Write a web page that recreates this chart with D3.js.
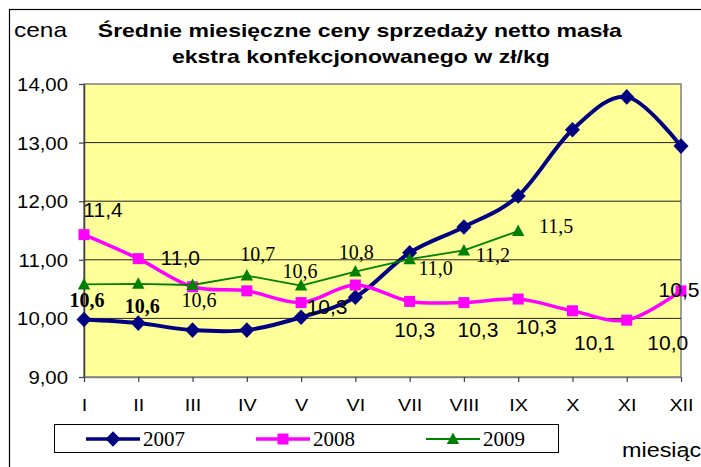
<!DOCTYPE html>
<html>
<head>
<meta charset="utf-8">
<script src="https://cdn.jsdelivr.net/npm/d3@7"></script>
<style>
  html, body { margin: 0; padding: 0; background: #fff; }
  svg { display: block; }
  .sans { font-family: "Liberation Sans", Arial, sans-serif; }
  .serif { font-family: "Liberation Serif", "Times New Roman", serif; }
</style>
</head>
<body>
<script>
'use strict';

let WIDTH = 701;
let HEIGHT = 467;

// data
let months = ['I', 'II', 'III', 'IV', 'V', 'VI', 'VII', 'VIII', 'IX', 'X', 'XI', 'XII'];
let price2007 = [9.98, 9.92, 9.80, 9.80, 10.02, 10.36, 11.12, 11.56, 12.09, 13.22, 13.78, 12.94];
let price2008 = [11.43, 11.02, 10.54, 10.47, 10.27, 10.57, 10.29, 10.27, 10.33, 10.13, 9.97, 10.47];
let price2009 = [10.58, 10.59, 10.57, 10.73, 10.56, 10.80, 11.01, 11.16, 11.49];
let yTicks = [9, 10, 11, 12, 13, 14];
let titleLines = ['Średnie miesięczne ceny sprzedaży netto masła', 'ekstra konfekcjonowanego w zł/kg'];

// which points carry a label, and where the label sits relative to the point
let labels2008 = [[0, 19, -17.6], [1, 42, 6.4], [4, 26, 11.4], [6, 5, 35.6], [7, 14, 34.4],
                  [8, 18, 34.9], [9, 22, 39.2], [10, 41, 29.8], [11, -2, 6]];
let labels2009 = [[0, 3, 22.6], [1, 4, 29.2], [2, 6.5, 22], [3, 11, -14.6], [4, -1, -7.6],
                  [5, 1, -12.5], [6, 26, 15.8], [7, 29, 11.6], [8, 38, 2]];

let plot = { left: 84, right: 681, top: 84, bottom: 377 };

let pl = d3.formatLocale({ decimal: ',', thousands: ' ', grouping: [3], currency: ['', ' zł'] });
let fmt2 = pl.format('.2f');
let fmt1 = pl.format('.1f');

let svg = d3.select('body')
    .append('svg')
    .attr('width', WIDTH)
    .attr('height', HEIGHT);

// outer chart frame (runs off the picture on the right and bottom)
svg.append('rect')
    .attr('x', 9.5).attr('y', 9.5)
    .attr('width', 900).attr('height', 900)
    .attr('fill', '#fff')
    .attr('stroke', '#000')
    .attr('stroke-width', 1.2);

let x = d3.scalePoint().domain(months).range([plot.left, plot.right]);
let y = d3.scaleLinear().domain([9, 14]).range([plot.bottom, plot.top]);

// plot area
svg.append('rect')
    .attr('x', plot.left).attr('y', plot.top)
    .attr('width', plot.right - plot.left)
    .attr('height', plot.bottom - plot.top)
    .attr('fill', '#ffff99')
    .attr('stroke', '#808080')
    .attr('stroke-width', 1.5);

// horizontal gridlines
svg.append('g')
    .selectAll('line')
    .data(yTicks.slice(1, -1))
    .enter()
    .append('line')
    .attr('x1', plot.left).attr('x2', plot.right)
    .attr('y1', d => y(d)).attr('y2', d => y(d))
    .attr('stroke', '#222')
    .attr('stroke-width', 1);

// y axis
let yAxis = svg.append('g')
    .attr('transform', `translate(${plot.left},0)`)
    .call(d3.axisLeft(y).tickValues(yTicks).tickFormat(fmt2).tickSize(5).tickSizeOuter(0));
yAxis.select('.domain').attr('stroke', '#404040').attr('stroke-width', 1.5);
yAxis.selectAll('.tick line').attr('stroke', '#404040').attr('stroke-width', 1.2);
yAxis.selectAll('.tick text')
    .attr('class', 'sans')
    .attr('font-size', 18.5)
    .attr('fill', '#000')
    .attr('x', 0)
    .attr('dy', '0.35em')
    .attr('text-anchor', 'end')
    .attr('transform', 'translate(-16,0) scale(1.1,1)');

// x axis
let xAxis = svg.append('g')
    .attr('transform', `translate(0,${plot.bottom})`)
    .call(d3.axisBottom(x).tickSize(5).tickSizeOuter(0));
xAxis.select('.domain').attr('stroke', '#808080').attr('stroke-width', 1.5);
xAxis.selectAll('.tick line').attr('stroke', '#404040').attr('stroke-width', 1.2);
xAxis.selectAll('.tick text')
    .attr('class', 'sans')
    .attr('font-size', 16.5)
    .attr('fill', '#000')
    .attr('y', 34)
    .attr('dy', 0)
    .attr('transform', 'scale(1.2,1)');
svg.selectAll('g').filter(function () { return this.getAttribute('font-family'); })
    .attr('font-family', null);

// series
let smooth = d3.line()
    .curve(d3.curveCardinal.tension(0))
    .x((d, i) => x(months[i]))
    .y(d => y(d));
let straight = d3.line()
    .x((d, i) => x(months[i]))
    .y(d => y(d));

let diamond = 'M0,-7.8L7.5,0L0,7.8L-7.5,0Z';
let square = 'M-5.5,-5.5H5.5V5.5H-5.5Z';
let triangle = 'M0,-6.5L6.2,5L-6.2,5Z';

let series = [
    { name: '2007', values: price2007, color: '#000080', width: 4, line: smooth, marker: diamond },
    { name: '2008', values: price2008, color: '#ff00ff', width: 3.5, line: smooth, marker: square },
    { name: '2009', values: price2009, color: '#008000', width: 1.8, line: straight, marker: triangle }
];

series.forEach(s => {
    let g = svg.append('g');
    g.append('path')
        .attr('d', s.line(s.values))
        .attr('fill', 'none')
        .attr('stroke', s.color)
        .attr('stroke-width', s.width)
        .attr('stroke-linejoin', 'round');
    g.selectAll('path.marker')
        .data(s.values)
        .enter()
        .append('path')
        .attr('class', 'marker')
        .attr('d', s.marker)
        .attr('fill', s.color)
        .attr('transform', (d, i) => `translate(${x(months[i])},${y(d)})`);
});

// data labels
svg.append('g')
    .selectAll('text')
    .data(labels2008)
    .enter()
    .append('text')
    .attr('class', 'sans')
    .attr('font-size', 21)
    .attr('text-anchor', 'middle')
    .attr('x', d => x(months[d[0]]) + d[1])
    .attr('y', d => y(price2008[d[0]]) + d[2])
    .text(d => fmt1(price2008[d[0]]));

svg.append('g')
    .selectAll('text')
    .data(labels2009)
    .enter()
    .append('text')
    .attr('class', 'serif')
    .attr('font-size', 20)
    .attr('font-weight', d => d[0] < 2 ? 'bold' : 'normal')
    .attr('text-anchor', 'middle')
    .attr('x', d => x(months[d[0]]) + d[1])
    .attr('y', d => y(price2009[d[0]]) + d[2])
    .text(d => fmt1(price2009[d[0]]));

// title and axis names
svg.append('g')
    .selectAll('text')
    .data(titleLines)
    .enter()
    .append('text')
    .attr('class', 'sans')
    .attr('font-size', 18.5)
    .attr('font-weight', 'bold')
    .attr('text-anchor', 'middle')
    .attr('x', (d, i) => i === 0 ? 359.8 : 360.9)
    .attr('y', (d, i) => 36.5 + i * 26)
    .attr('textLength', (d, i) => i === 0 ? 524 : 378)
    .attr('lengthAdjust', 'spacingAndGlyphs')
    .text(d => d);

svg.append('text')
    .attr('class', 'sans')
    .attr('font-size', 21)
    .attr('x', 14).attr('y', 37)
    .attr('textLength', 53)
    .attr('lengthAdjust', 'spacingAndGlyphs')
    .text('cena');

svg.append('text')
    .attr('class', 'sans')
    .attr('font-size', 19.5)
    .attr('transform', 'translate(622,457) scale(1.2,1)')
    .text('miesiąc');

// legend
let legend = svg.append('g');
legend.append('rect')
    .attr('x', 54.5).attr('y', 424.5)
    .attr('width', 504).attr('height', 28)
    .attr('fill', '#fff')
    .attr('stroke', '#000')
    .attr('stroke-width', 1);

let legendX = [86, 256, 426];
series.forEach((s, i) => {
    let lx = legendX[i];
    let ly = 439;
    legend.append('line')
        .attr('x1', lx).attr('x2', lx + 54)
        .attr('y1', ly).attr('y2', ly)
        .attr('stroke', s.color)
        .attr('stroke-width', s.width === 4 ? 3.5 : s.width);
    legend.append('path')
        .attr('d', s.marker)
        .attr('fill', s.color)
        .attr('transform', `translate(${lx + 27},${ly})`);
    legend.append('text')
        .attr('class', 'serif')
        .attr('font-size', 21)
        .attr('x', lx + 57)
        .attr('y', ly + 7)
        .text(s.name);
});
</script>
</body>
</html>
